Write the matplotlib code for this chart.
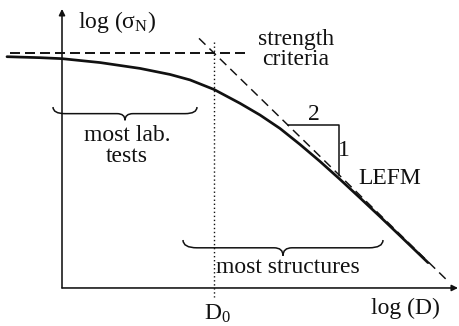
import matplotlib
matplotlib.use("Agg")
import matplotlib.pyplot as plt
from matplotlib.path import Path
from matplotlib.patches import PathPatch

plt.rcParams["font.family"] = ["Liberation Serif", "DejaVu Serif"]
plt.rcParams["mathtext.default"] = "regular"
plt.rcParams["lines.scale_dashes"] = False

# size-effect curve: x = log(D/D0), y = log(sigma_N / strength level)
log_d = [-2.07, -1.74, -1.52, -1.14, -0.74, -0.44, -0.24, 0.0, 0.26,
         0.46, 0.66, 0.86, 1.06, 1.26, 1.46, 1.66, 1.86, 2.14]
log_sigma = [-0.019, -0.024, -0.029, -0.049, -0.079, -0.110, -0.138,
             -0.187, -0.258, -0.318, -0.387, -0.469, -0.556, -0.648,
             -0.743, -0.839, -0.937, -1.075]

strength_span = [-2.04, 0.31]      # horizontal asymptote, y = 0
lefm_span = [-0.15, 2.33]          # LEFM asymptote, slope -1/2
lefm_slope = -0.5
slope_run = [0.74, 1.25]           # 2 : 1 slope triangle along the asymptote
d0 = 0.0

axis_x0, axis_y0 = -1.52, -1.205
axis_x1, axis_y1 = 2.44, 0.226

lab_span = [-1.61, -0.17]          # "most lab. tests"
struct_span = [-0.31, 1.69]        # "most structures"

INK = "#111111"
FS = 17

fig = plt.figure(figsize=(4.59, 3.26), dpi=100)
ax = fig.add_axes([0, 0, 1, 1])
ax.set_xlim(-2.14, 2.45)
ax.set_ylim(-1.4, 0.2718)
ax.axis("off")

# axes with arrow heads
arrow = dict(arrowstyle="-|>", lw=1.15, color=INK, mutation_scale=9,
             shrinkA=0, shrinkB=0)
ax.annotate("", xy=(axis_x0, axis_y1), xytext=(axis_x0, axis_y0),
            arrowprops=arrow)
ax.annotate("", xy=(axis_x1, axis_y0), xytext=(axis_x0, axis_y0),
            arrowprops=arrow)

# asymptotes
ax.plot(strength_span, [0, 0], color=INK, lw=1.4, dashes=(7.2, 3.6))
ax.plot(lefm_span, [lefm_slope * x for x in lefm_span], color=INK, lw=1.05,
        dashes=(6.5, 4.0))
ax.plot([d0, d0], [0.056, -1.251], color=INK, lw=1.0, dashes=(1.0, 1.9))

# size-effect law
ax.plot(log_d, log_sigma, color=INK, lw=1.95, solid_capstyle="round")

# slope triangle
xa, xb = slope_run
ax.plot([xa, xb, xb], [lefm_slope * xa, lefm_slope * xa, lefm_slope * xb],
        color=INK, lw=1.1)
ax.text((xa + xb) / 2 + 0.0, lefm_slope * xa + 0.055, "2", fontsize=FS,
        ha="center", va="center", color=INK)
ax.text(xb + 0.05, (lefm_slope * xa + lefm_slope * xb) / 2 - 0.0, "1",
        fontsize=FS, ha="center", va="center", color=INK)


def brace(x0, x1, y, h, r_end, r_tip):
    xm = (x0 + x1) / 2
    yl = y - h
    verts = [(x0, y), (x0, yl), (x0 + r_end, yl), (xm - r_tip, yl),
             (xm, yl), (xm, yl - h), (xm, yl), (xm + r_tip, yl),
             (x1 - r_end, yl), (x1, yl), (x1, y)]
    codes = [Path.MOVETO, Path.CURVE3, Path.CURVE3, Path.LINETO,
             Path.CURVE3, Path.CURVE3, Path.CURVE3, Path.CURVE3,
             Path.LINETO, Path.CURVE3, Path.CURVE3]
    ax.add_patch(PathPatch(Path(verts, codes), fill=False, lw=1.1,
                           edgecolor=INK))


brace(lab_span[0], lab_span[1], -0.277, 0.034, 0.12, 0.08)
brace(struct_span[0], struct_span[1], -0.959, 0.040, 0.14, 0.09)

# labels
ax.text(-1.36, 0.128, "log (σ$_N$)", fontsize=FS, ha="left",
        va="baseline", color=INK)
ax.text(0.82, 0.02, "strength\ncriteria", fontsize=FS, ha="center",
        va="center", linespacing=0.95, color=INK)
ax.text(-0.87, -0.477, "most lab.\ntests", fontsize=FS, ha="center",
        va="center", linespacing=0.95, color=INK)
ax.text(1.44, -0.646, "LEFM", fontsize=FS, ha="left", va="center",
        color=INK)
ax.text(0.74, -1.128, "most structures", fontsize=FS, ha="center",
        va="baseline", color=INK)
ax.text(1.91, -1.338, "log (D)", fontsize=FS, ha="center", va="baseline",
        color=INK)
ax.text(-0.10, -1.369, "D$_0$", fontsize=FS, ha="left", va="baseline",
        color=INK)

fig.savefig("out.png", dpi=100, facecolor="white")
